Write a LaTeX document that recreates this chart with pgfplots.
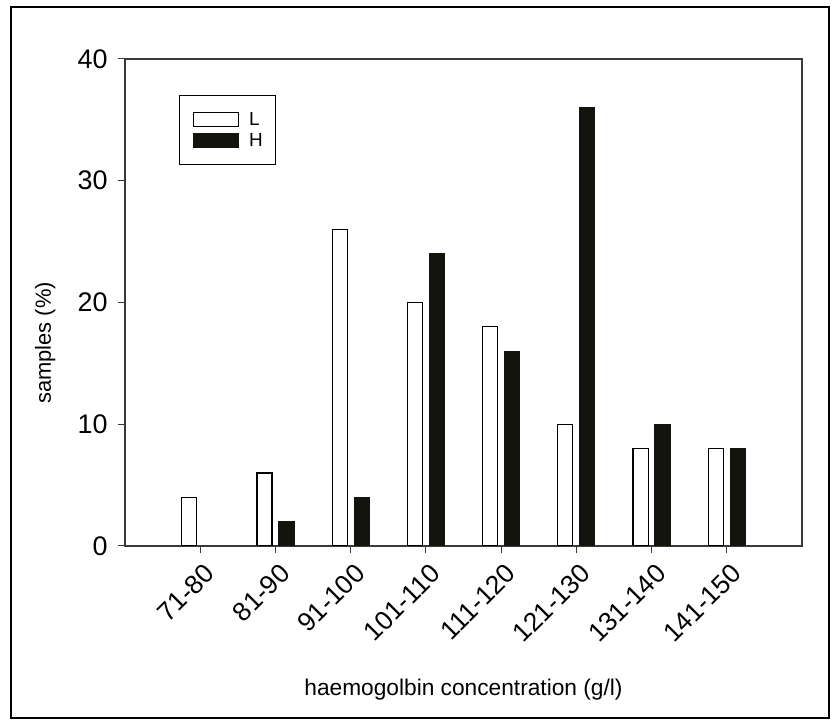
\documentclass[border=0pt]{standalone}
\usepackage{fontspec}
\setmainfont{Liberation Sans}
\usepackage{pgfplots}
\pgfplotsset{compat=1.18}
\definecolor{barblack}{HTML}{14140F}
\definecolor{axisgray}{HTML}{3A3A36}
\pgfplotsset{myleg/.style={legend image code/.code={\path[fill=none,draw=none] (0bp,-10.75bp) rectangle (56bp,10.75bp);\draw[##1, line width=1.2bp] (0bp,-7bp) rectangle (45bp,7bp);}}}
\begin{document}
\begin{tikzpicture}[x=1bp,y=1bp]
\path[use as bounding box] (0,0) rectangle (834,722);
\draw[line width=1.3bp] (11,4) rectangle (829,715);
\begin{axis}[
  at={(125bp,176bp)}, anchor=south west,
  scale only axis, width=677bp, height=487bp,
  xmin=-1, xmax=8, ymin=0, ymax=40,
  ytick={0,10,20,30,40},
  xtick={0,...,7},
  xticklabels={71-80,81-90,91-100,101-110,111-120,121-130,131-140,141-150},
  tick align=outside, major tick length=7bp,
  xtick pos=left, ytick pos=left,
  tick style={line width=1bp, axisgray},
  axis line style={line width=1.4bp, axisgray},
  /pgf/number format/assume math mode=true,
  yticklabel style={font=\fontsize{27}{27}\selectfont, xshift=-7bp},
  xticklabel style={font=\fontsize{26.5}{26.5}\selectfont, inner sep=0pt, xshift=3bp, yshift=-9bp, rotate=45, anchor=north east},
  xlabel={haemogolbin concentration (g/l)},
  ylabel={samples (\%)},
  xlabel style={font=\fontsize{22.8}{22.8}\selectfont, at={(axis description cs:0.5,-0.294)}, anchor=center},
  ylabel style={font=\fontsize{22}{22}\selectfont, at={(axis description cs:-0.118,0.417)}, anchor=center, rotate=0},
  legend style={at={(axis description cs:0.0798,0.926)}, anchor=north west, draw=black, line width=1.1bp,
     font=\fontsize{19}{19}\selectfont, row sep=0pt, inner xsep=13bp, inner ysep=13bp, nodes={inner sep=0pt}},
  legend cell align=left,
]
\addplot[ybar, bar width=0.2, bar shift=-0.146, draw=black, fill=white, line width=1.2bp, myleg]
  coordinates {(0,4) (1,6) (2,26) (3,20) (4,18) (5,10) (6,8) (7,8)};
\addlegendentry{L}
\addplot[ybar, bar width=0.2, bar shift=0.146, draw=barblack, fill=barblack, line width=1.2bp, myleg]
  coordinates {(1,2) (2,4) (3,24) (4,16) (5,36) (6,10) (7,8)};
\addlegendentry{H}
\end{axis}
\end{tikzpicture}
\end{document}
